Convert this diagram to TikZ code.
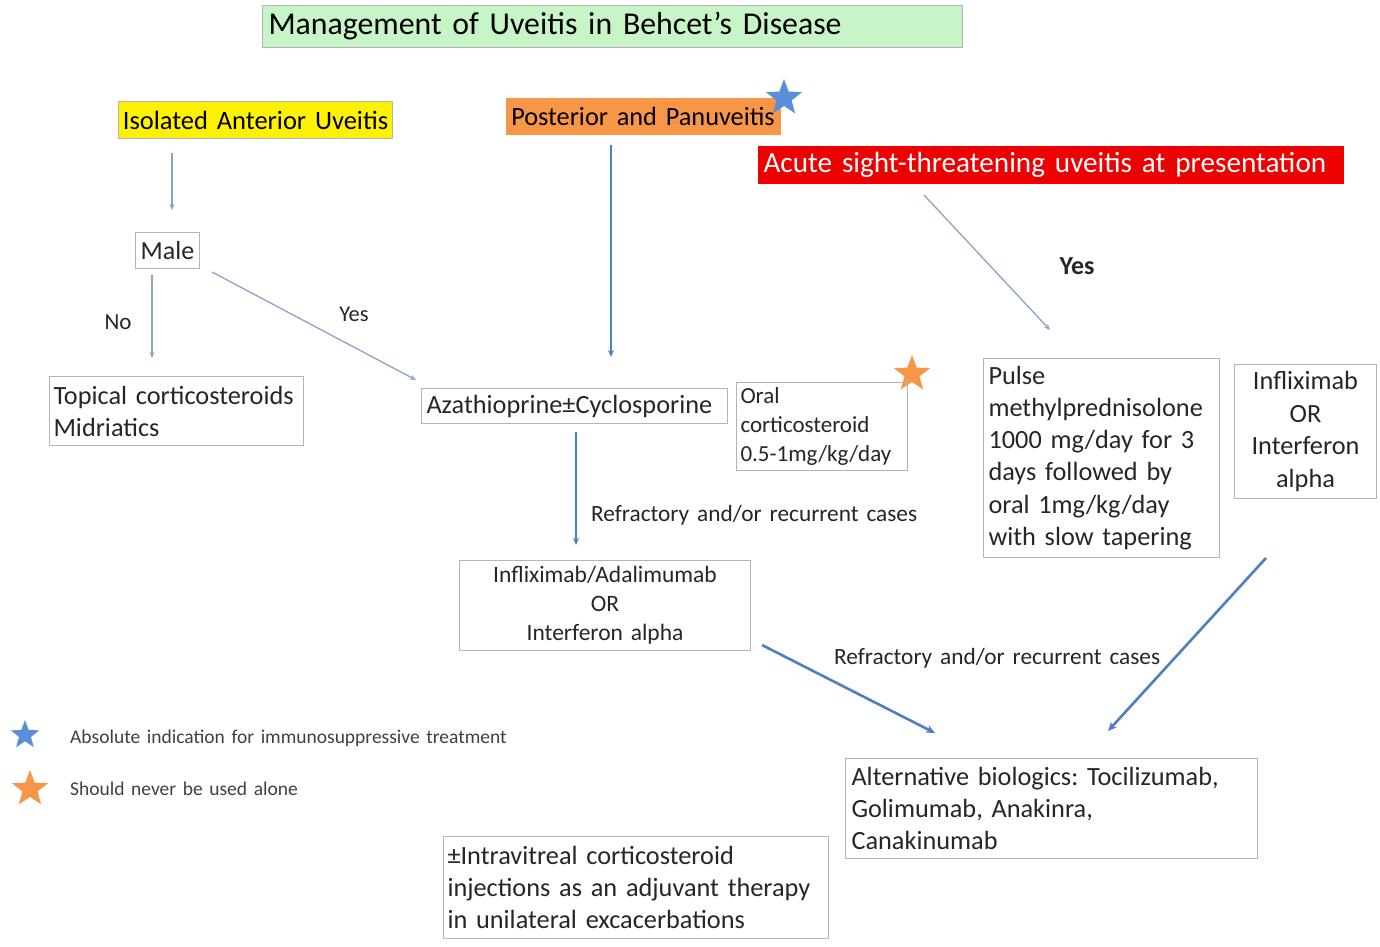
\documentclass[tikz,border=0pt]{standalone}
\usepackage{fontspec}
\setmainfont{Carlito}[WordSpace=1.5]
\frenchspacing
\usetikzlibrary{arrows.meta,shapes.geometric}
\definecolor{txt}{HTML}{262626}
\definecolor{bord}{HTML}{B4B4B4}
\definecolor{thinarr}{HTML}{8CA2C6}
\definecolor{bluearr}{HTML}{4F7FC0}
\definecolor{titlegreen}{HTML}{C8F5C8}
\definecolor{orangebox}{HTML}{F79646}
\definecolor{redbox}{HTML}{EE0000}
\definecolor{bluestar}{HTML}{5A8ED8}
\definecolor{orangestar}{HTML}{F79646}
\newcommand{\fs}[2]{\fontsize{#1}{#2}\selectfont}
\tikzset{
  box/.style={draw=bord, line width=1pt, rectangle, anchor=north west, inner xsep=4pt, inner ysep=0pt, text=txt},
  lbl/.style={text=txt, inner sep=0pt},
  thin/.style={draw=thinarr, line width=1.3pt, -{Stealth[length=6pt,width=5pt]}},
  medarr/.style={draw=bluearr, line width=1.8pt, -{Stealth[length=7pt,width=6pt]}},
  thickarr/.style={draw=bluearr, line width=2.6pt, -{Stealth[length=9pt,width=8pt]}},
  starshape/.style={star, star points=5, star point ratio=2.4, inner sep=0pt, draw=none}
}
\begin{document}
\begin{tikzpicture}[x=1pt,y=-1pt]
\useasboundingbox (0,0) rectangle (1380,946);
\fill[white] (0,0) rectangle (1380,946);

% title
\node[box, fill=titlegreen, minimum height=42pt, inner xsep=6pt, text=black, font=\fs{31.8}{36}] (title) at (262,5) {\makebox[688pt][l]{Management of Uveitis in Behcet’s Disease}};

% top categories
\node[box, fill=yellow, minimum width=274pt, minimum height=37pt, text width=266pt, align=center, text=black, font=\fs{26.5}{30}] (iso) at (118,101) {Isolated Anterior Uveitis};
\node[box, fill=orangebox, minimum width=275pt, minimum height=37pt, text width=267pt, align=center, draw=none, text=black, font=\fs{26.3}{30}] (post) at (505,97) {Posterior and Panuveitis};
\node[box, fill=redbox, minimum height=38pt, inner xsep=6pt, draw=none, text=white, font=\fs{29.2}{32}] (acute) at (757,145) {\makebox[574pt][l]{Acute sight-threatening uveitis at presentation}};

% stars
\node[starshape, fill=bluestar, minimum size=38pt] (star1) at (784,98) {};
\node[starshape, fill=orangestar, minimum size=38pt] (star2) at (912,374) {};

% boxes
\node[box, minimum width=64pt, minimum height=36pt, align=center, font=\fs{26}{30}] (male) at (135,232) {Male};
\node[box, minimum width=254pt, minimum height=69pt, text width=246pt, align=left, font=\fs{26.3}{32}] (top) at (49,376) {Topical corticosteroids\\Midriatics};
\node[box, minimum width=304pt, minimum height=35pt, text width=296pt, align=left, inner xsep=5pt, font=\fs{26.3}{30}] (aza) at (421,388) {Azathioprine±Cyclosporine};
\node[box, minimum width=171pt, minimum height=88pt, text width=163pt, align=left, font=\fs{23}{29}] (oral) at (736,382) {Oral\\corticosteroid\\0.5-1mg/kg/day};
\node[box, minimum width=235pt, minimum height=199pt, text width=226pt, align=left, inner xsep=5pt, font=\fs{26.3}{32.2}] (pulse) at (983,358) {Pulse\\methylprednisolone\\1000 mg/day for 3\\days followed by\\oral 1mg/kg/day\\with slow tapering};
\node[box, minimum width=142pt, minimum height=134pt, text width=134pt, align=center, font=\fs{26.3}{32.5}] (infl) at (1234,364) {Infliximab\\OR\\Interferon\\alpha};
\node[box, minimum width=291pt, minimum height=90pt, text width=283pt, align=center, font=\fs{23.5}{29}] (infad) at (459,560) {Infliximab/Adalimumab\\OR\\Interferon alpha};
\node[box, minimum width=411pt, minimum height=100pt, text width=400pt, align=left, inner xsep=6pt, font=\fs{26.3}{32}] (alt) at (845,758) {Alternative biologics: Tocilizumab,\\Golimumab, Anakinra,\\Canakinumab};
\node[box, minimum width=385pt, minimum height=102pt, text width=377pt, align=left, inner xsep=4pt, font=\fs{26.3}{32}] (intra) at (443,836) {±Intravitreal corticosteroid\\injections as an adjuvant therapy\\in unilateral excacerbations};

% labels
\node[lbl, font=\fs{23}{26}] (no) at (118,322) {No};
\node[lbl, font=\fs{22.5}{26}] (yes1) at (354,314) {Yes};
\node[lbl, font=\fs{26}{30}\bfseries] (yes2) at (1077,266) {Yes};
\node[lbl, anchor=west, font=\fs{23.3}{26}] (ref1) at (591,515) {Refractory and/or recurrent cases};
\node[lbl, anchor=west, font=\fs{23.3}{26}] (ref2) at (834,658) {Refractory and/or recurrent cases};

% legend
\node[starshape, fill=bluestar, minimum size=30pt] (lstar1) at (25,735) {};
\node[starshape, fill=orangestar, minimum size=38pt] (lstar2) at (30,789) {};
\node[lbl, anchor=west, text=black!75, font=\fs{19.5}{22}] (leg1) at (70,738) {Absolute indication for immunosuppressive treatment};
\node[lbl, anchor=west, text=black!75, font=\fs{19.5}{22}] (leg2) at (70,789) {Should never be used alone};

% connector end points
\coordinate (c1a) at (172,153); \coordinate (c1b) at (172,210);
\coordinate (c2a) at (152,275); \coordinate (c2b) at (152,358);
\coordinate (c3a) at (212,272); \coordinate (c3b) at (416,380);
\coordinate (c4a) at (611,145); \coordinate (c4b) at (611,357);
\coordinate (c5a) at (576,432); \coordinate (c5b) at (576,545);
\coordinate (c6a) at (924,195); \coordinate (c6b) at (1050,330);
\coordinate (c7a) at (762,645); \coordinate (c7b) at (935,733);
\coordinate (c8a) at (1266,558); \coordinate (c8b) at (1108,731);

\draw[thin] (c1a) -- (c1b);
\draw[thin] (c2a) -- (c2b);
\draw[thin] (c3a) -- (c3b);
\draw[medarr] (c4a) -- (c4b);
\draw[medarr] (c5a) -- (c5b);
\draw[thin] (c6a) -- (c6b);
\draw[thickarr] (c7a) -- (c7b);
\draw[thickarr] (c8a) -- (c8b);
\end{tikzpicture}
\end{document}
